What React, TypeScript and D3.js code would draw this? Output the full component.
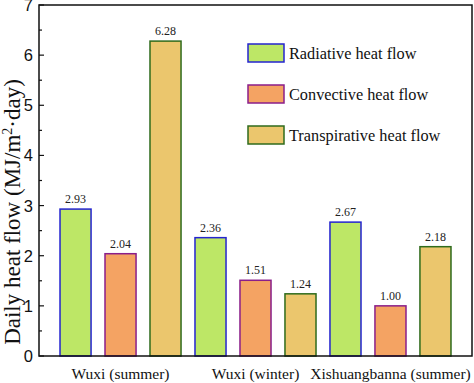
import React from "react";
import * as d3 from "d3";

const categories = ["Wuxi (summer)", "Wuxi (winter)", "Xishuangbanna (summer)"];
const seriesNames = ["Radiative heat flow", "Convective heat flow", "Transpirative heat flow"];
const radiative = [2.93, 2.36, 2.67];
const convective = [2.04, 1.51, 1.0];
const transpirative = [6.28, 1.24, 2.18];
const yTicks = [0, 1, 2, 3, 4, 5, 6, 7];

const fills = ["#bde766", "#f4a363", "#ebc66d"];
const strokes = ["#2424d0", "#8a1e8a", "#2f6b1c"];

const W = 474, H = 383;
const left = 39, right = 472, top = 5, bottom = 356;

export default function App() {
  const series = [radiative, convective, transpirative];
  const x0 = d3.scaleBand<string>().domain(categories).range([left, right]).paddingInner(0).paddingOuter(0.104);
  const x1 = d3.scaleBand<string>().domain(seriesNames).range([0, x0.bandwidth()]).paddingInner(0.31).paddingOuter(0.155);
  const y = d3.scaleLinear().domain([0, 7]).range([bottom, top]);
  const minor = d3.range(0.5, 7, 1);
  const serif = "'Liberation Serif', 'Times New Roman', serif";
  const sans = "'Liberation Sans', Arial, sans-serif";
  return (
    <svg width={W} height={H} style={{ position: "absolute", left: 0, top: 0, background: "#fff" }}>
      {categories.map((c, ci) =>
        seriesNames.map((s, si) => {
          const v = series[si][ci];
          const bx = (x0(c) as number) + (x1(s) as number);
          return (
            <g key={c + s}>
              <rect x={bx} y={y(v)} width={x1.bandwidth()} height={bottom - y(v)} fill={fills[si]} stroke={strokes[si]} strokeWidth={1.5} />
              <text x={bx + x1.bandwidth() / 2} y={y(v) - 6} textAnchor="middle" fontFamily={serif} fontSize={12} fill="#222">
                {v.toFixed(2)}
              </text>
            </g>
          );
        })
      )}
      <rect x={left} y={top} width={right - left} height={bottom - top} fill="none" stroke="#111" strokeWidth={1.5} />
      {yTicks.map((t) => (
        <g key={t}>
          <line x1={left} x2={left + 5} y1={y(t)} y2={y(t)} stroke="#111" strokeWidth={1.2} />
          <text x={33} y={y(t)} dy="0.36em" textAnchor="end" fontFamily={sans} fontSize={16.5} fill="#111">{t}</text>
        </g>
      ))}
      {minor.map((t) => (
        <line key={t} x1={left} x2={left + 3} y1={y(t)} y2={y(t)} stroke="#111" strokeWidth={1.2} />
      ))}
      {categories.map((c) => (
        <text key={c} x={(x0(c) as number) + x0.bandwidth() / 2} y={379} textAnchor="middle" fontFamily={serif} fontSize={15.5} fill="#111">{c}</text>
      ))}
      <text transform={`translate(20,212) rotate(-90)`} textAnchor="middle" fontFamily={serif} fontSize={23} fill="#111">
        Daily heat flow (MJ/m<tspan dy="-8" fontSize={14}>2</tspan><tspan dy="8">·day)</tspan>
      </text>
      {seriesNames.map((s, i) => (
        <g key={s} transform={`translate(248,${44 + i * 41})`}>
          <rect x={0} y={0} width={36} height={18} fill={fills[i]} stroke={strokes[i]} strokeWidth={1.5} />
          <text x={41} y={9} dy="0.35em" fontFamily={serif} fontSize={16.3} fill="#111">{s}</text>
        </g>
      ))}
    </svg>
  );
}
